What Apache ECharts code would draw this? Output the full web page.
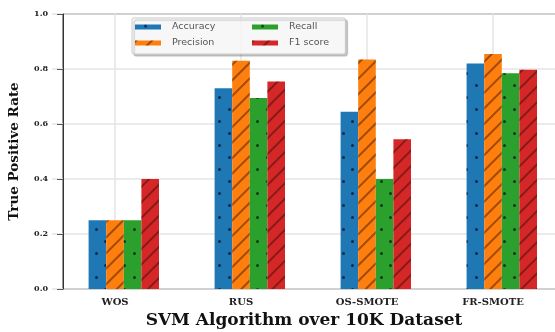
<!DOCTYPE html>
<html>
<head>
<meta charset="utf-8">
<script src="https://cdn.jsdelivr.net/npm/echarts@6/dist/echarts.min.js"></script>
<style>
html,body{margin:0;padding:0;background:#fff;}
#chart{width:555px;height:332px;}
</style>
</head>
<body>
<div id="chart"></div>
<script>
const categories = ['WOS', 'RUS', 'OS-SMOTE', 'FR-SMOTE'];
const accuracy  = [0.25, 0.73, 0.645, 0.82];
const precision = [0.25, 0.83, 0.835, 0.855];
const recall    = [0.25, 0.695, 0.40, 0.785];
const f1score   = [0.40, 0.755, 0.545, 0.797];
const yTicks = [0.0, 0.2, 0.4, 0.6, 0.8, 1.0];
const seriesNames = ['Accuracy', 'Precision', 'Recall', 'F1 score'];
const colors = ['#1f77b4', '#ff7f0e', '#2ca02c', '#d62728'];

const serif = 'DejaVu Serif';
const dotDecal = {
  symbol: 'circle', symbolSize: 1, color: 'rgba(10,10,30,0.7)',
  dashArrayX: [[2.6, 15.4], [0, 9, 2.6, 6.4]], dashArrayY: [2.6, 8.4], rotation: 0
};
const hatchDecal = {
  symbol: 'rect', symbolSize: 1, color: 'rgba(40,10,0,0.45)',
  dashArrayX: [1, 0], dashArrayY: [1.3, 9], rotation: -Math.PI / 4
};
const decals = [dotDecal, hatchDecal, dotDecal, hatchDecal];
const values = [accuracy, precision, recall, f1score];

const series = [{
  name: '_pad', type: 'bar', xAxisIndex: 0, yAxisIndex: 0,
  data: categories.map(() => 0), barWidth: 17.6, barGap: '0%',
  itemStyle: { color: 'rgba(0,0,0,0)' }, silent: true
}];
seriesNames.forEach((n, i) => {
  series.push({
    name: n, type: 'bar', xAxisIndex: 0, yAxisIndex: 0,
    data: values[i], barWidth: 17.6, barGap: '0%',
    itemStyle: { color: colors[i], decal: decals[i] }
  });
});

const legendText = { fontFamily: 'DejaVu Sans', fontSize: 9.5, color: '#555', padding: [0, 0, 0, 6] };
const legendCommon = {
  orient: 'vertical', top: 18,
  itemWidth: 26, itemHeight: 5, itemGap: 6,
  icon: 'rect', textStyle: legendText
};

const chart = echarts.init(document.getElementById('chart'), null, { renderer: 'canvas' });
chart.setOption({
  animation: false,
  color: colors,
  grid: [
    { left: 52, right: -1, top: 14, bottom: 43, containLabel: false, outerBoundsMode: 'none' },
    { left: 63, right: -20, top: 14, bottom: 43, containLabel: false, outerBoundsMode: 'none',
      show: true, borderColor: '#333', borderWidth: 1, backgroundColor: 'rgba(0,0,0,0)' }
  ],
  legend: [
    Object.assign({}, legendCommon, {
      data: ['Accuracy', 'Precision'], left: 132,
      padding: [4, 130, 6, 3],
      borderColor: '#c8c8c8', borderWidth: 1, borderRadius: 2,
      backgroundColor: 'rgba(255,255,255,0.85)',
      shadowColor: 'rgba(0,0,0,0.25)', shadowOffsetX: 2, shadowOffsetY: 2, shadowBlur: 1
    }),
    Object.assign({}, legendCommon, {
      data: ['Recall', 'F1 score'], left: 252,
      padding: [4, 0, 6, 0]
    })
  ],
  xAxis: [
    {
      type: 'category', gridIndex: 0, data: categories,
      axisLine: { show: false }, axisTick: { show: false },
      axisLabel: { fontFamily: serif, fontWeight: 'bold', fontSize: 10, color: '#222', margin: 8 },
      splitLine: { show: true, alignWithLabel: true, lineStyle: { color: '#e4e4e4', width: 1.5 } },
      name: 'SVM Algorithm over 10K Dataset', nameLocation: 'middle', nameGap: 20,
      nameTextStyle: { fontFamily: serif, fontWeight: 'bold', fontSize: 17, color: '#111' }
    },
    {
      type: 'category', gridIndex: 1, data: categories, show: false
    }
  ],
  yAxis: [
    {
      type: 'value', gridIndex: 0, min: 0, max: 1, interval: 0.2,
      axisLine: { show: false }, axisTick: { show: false }, axisLabel: { show: false },
      splitLine: { show: true, lineStyle: { color: '#e4e4e4', width: 1.5 } }
    },
    {
      type: 'value', gridIndex: 1, min: 0, max: 1, interval: 0.2,
      axisLine: { show: true, lineStyle: { color: '#333' } },
      axisTick: { show: true, length: 6, lineStyle: { color: '#555' } },
      splitLine: { show: false },
      axisLabel: {
        fontFamily: serif, fontWeight: 'bold', fontSize: 8, color: '#222', margin: 15,
        formatter: v => yTicks.includes(Math.round(v * 10) / 10) ? v.toFixed(1) : ''
      },
      name: 'True Positive Rate', nameLocation: 'middle', nameGap: 42,
      nameTextStyle: { fontFamily: serif, fontWeight: 'bold', fontSize: 13.5, color: '#111' }
    }
  ],
  series: series
});
</script>
</body>
</html>
